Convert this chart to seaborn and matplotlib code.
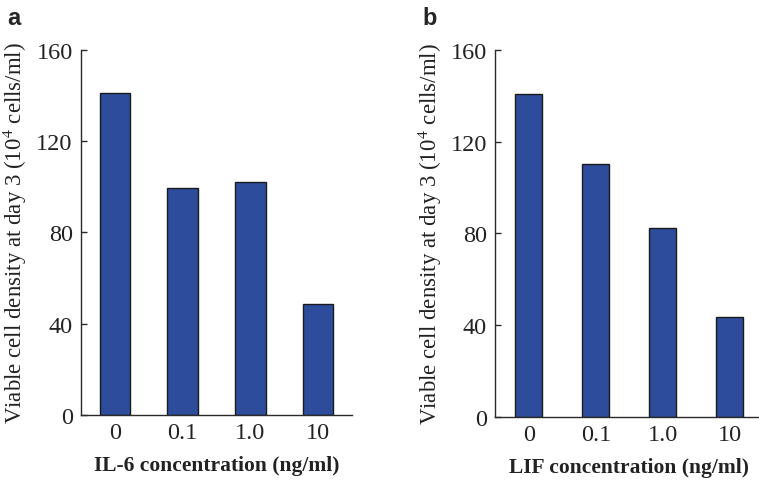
import matplotlib
matplotlib.use("Agg")
import matplotlib.pyplot as plt
import seaborn as sns
import pandas as pd
from matplotlib.ticker import FixedLocator

categories = ["0", "0.1", "1.0", "10"]
il6_values = [141, 99.5, 102, 48.5]
lif_values = [141, 110.5, 82.5, 43.5]
y_ticks = [0, 40, 80, 120, 160]
ylabel = "Viable cell density at day 3 (10$^{4}$ cells/ml)"
xlabel_a = "IL-6 concentration (ng/ml)"
xlabel_b = "LIF concentration (ng/ml)"

sns.set_style("white")
plt.rcParams["font.family"] = ["Liberation Serif", "DejaVu Serif"]
plt.rcParams["mathtext.fontset"] = "stix"

bar_color = "#2D4D9C"
axis_color = "#2a2a2a"

fig = plt.figure(figsize=(7.59, 4.81), dpi=100)
ax_a = fig.add_axes([0.1067, 0.1351, 0.357, 0.759])
ax_b = fig.add_axes([0.6526, 0.131, 0.353, 0.763])

def draw(ax, vals, xlabel, width):
    df = pd.DataFrame({"conc": categories, "val": vals})
    sns.barplot(data=df, x="conc", y="val", color=bar_color, width=width,
                edgecolor="#1a1a1a", linewidth=1.0, saturation=1, ax=ax)
    ax.set_xlim(-0.5, 3.5)
    ax.set_ylim(0, 160)
    ax.set_yticks(y_ticks)
    ax.set_yticklabels([str(t) for t in y_ticks], fontsize=17.5, color="#222")
    ax.set_xticklabels(categories, fontsize=17.5, color="#222")
    ax.tick_params(axis="x", which="major", length=0, pad=5)
    ax.xaxis.set_minor_locator(FixedLocator([0.5, 1.5, 2.5, 3.5]))
    ax.tick_params(axis="x", which="minor", direction="in", length=4.5,
                   width=1.0, color=axis_color)
    ax.tick_params(axis="y", direction="in", length=4.5, width=1.0,
                   color=axis_color, pad=6, left=True)
    for s in ["top", "right"]:
        ax.spines[s].set_visible(False)
    for s in ["left", "bottom"]:
        ax.spines[s].set_color(axis_color)
        ax.spines[s].set_linewidth(1.0)
    ax.set_ylabel(ylabel, fontsize=16.5, color="#222", labelpad=5)
    ax.set_xlabel(xlabel, fontsize=15.5, fontweight="bold", color="#222", labelpad=9)
    ax.set_facecolor("white")

draw(ax_a, il6_values, xlabel_a, 0.45)
draw(ax_b, lif_values, xlabel_b, 0.40)

fig.text(0.010, 0.985, "a", fontsize=17, fontweight="bold",
         family=["Liberation Sans", "DejaVu Sans"], va="top", ha="left")
fig.text(0.556, 0.985, "b", fontsize=17, fontweight="bold",
         family=["Liberation Sans", "DejaVu Sans"], va="top", ha="left")

fig.savefig("out.png", dpi=100, facecolor="white")
